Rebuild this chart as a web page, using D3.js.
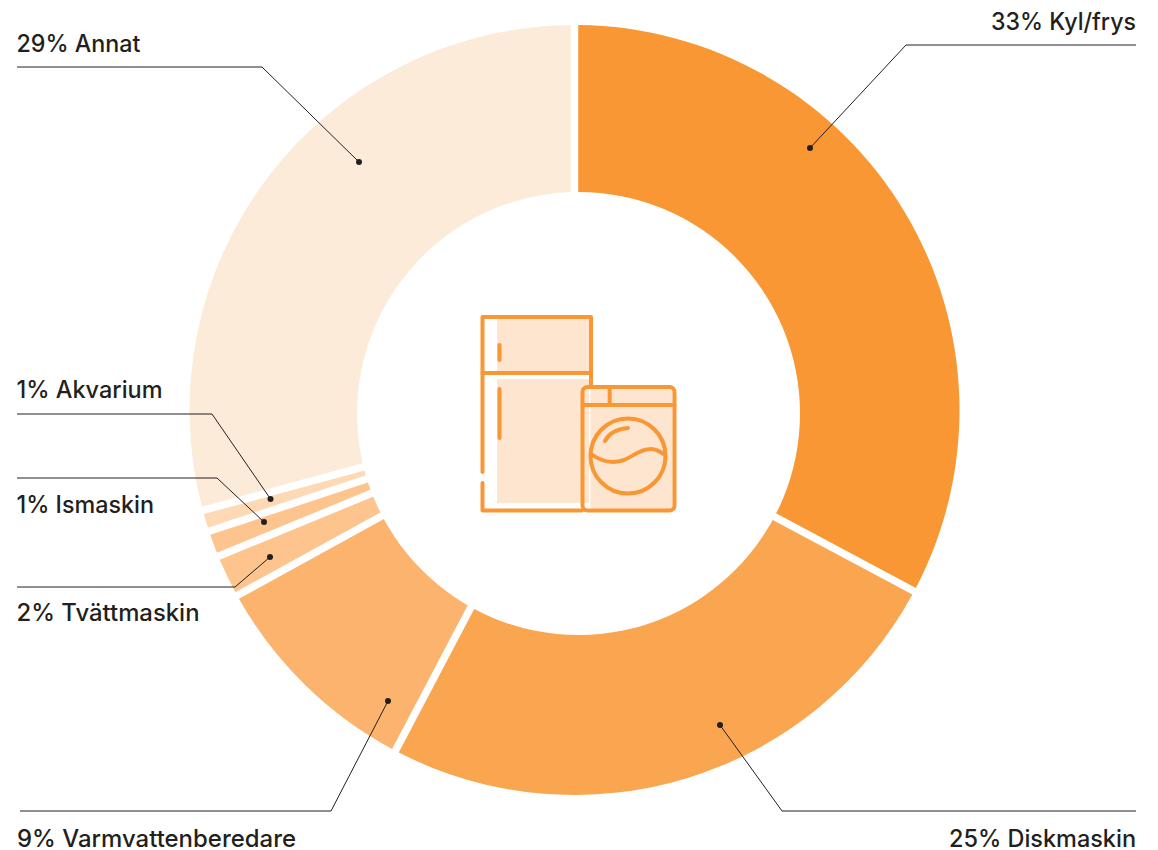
<!DOCTYPE html>
<html><head><meta charset="utf-8">
<script src="https://cdn.jsdelivr.net/npm/d3@7/dist/d3.min.js"></script>
<style>html,body{margin:0;padding:0;background:#fff}svg{display:block}</style>
</head><body><svg id="c" width="1158" height="850"></svg>
<script>
const categories = ["Kyl/frys","Diskmaskin","Varmvattenberedare","Tvättmaskin","Ismaskin","Akvarium","Annat"];
const labelShares = [33,25,9,2,1,1,29];
const sliceShares = [32.8,24.9,9.3,1.8,1.1,0.9,29.2];
const colors = ["#F89734","#FAA651","#FCB36D","#FDC48D","#FDC48D","#FDD9B5","#FDEBDA"];
// leader layout: line points, label anchor, label width
const leaderLayout = [
  {pts:[[1136,45],[906,45],[810,148]], tx:1136, ty:30, anchor:"end", w:145},
  {pts:[[1136,811],[782,811],[720,725]], tx:1136, ty:847, anchor:"end", w:187},
  {pts:[[20,811],[331,811],[388,701]], tx:17, ty:847, anchor:"start", w:279},
  {pts:[[17,587],[235,587],[270,557]], tx:16.5, ty:621, anchor:"start", w:183},
  {pts:[[17,478],[217,478],[264,522]], tx:16.5, ty:513, anchor:"start", w:137.5},
  {pts:[[17,414],[212,414],[270.5,499]], tx:16.5, ty:398, anchor:"start", w:146},
  {pts:[[17,67],[262,67],[359,162]], tx:16.5, ty:52, anchor:"start", w:124}
];
const svg = d3.select("#c");
const cx=574.5, cy=410, R=385;
const pie = d3.pie().sort(null).value(d=>d);
const arc = d3.arc().innerRadius(205).outerRadius(R).padRadius(300).padAngle(7.5/300);
const arcs = pie(sliceShares);
svg.append("g").attr("transform",`translate(${cx},${cy})`)
  .selectAll("path").data(arcs).join("path")
  .attr("d",arc).attr("fill",(d,i)=>colors[i]);
svg.append("circle").attr("cx",578.5).attr("cy",413.5).attr("r",221.5).attr("fill","#fff");

const line = d3.line();
const lg = svg.append("g");
lg.selectAll("path").data(leaderLayout).join("path")
  .attr("d",d=>line(d.pts)).attr("fill","none").attr("stroke","#231f20").attr("stroke-width",1);
lg.selectAll("circle").data(leaderLayout).join("circle")
  .attr("cx",d=>d.pts[2][0]).attr("cy",d=>d.pts[2][1]).attr("r",3).attr("fill","#231f20");
lg.selectAll("text").data(leaderLayout).join("text")
  .attr("x",d=>d.tx).attr("y",d=>d.ty).attr("text-anchor",d=>d.anchor)
  .attr("textLength",d=>d.w).attr("lengthAdjust","spacingAndGlyphs")
  .attr("font-family","Inter, Lato, sans-serif").attr("font-size",24).attr("font-weight",500)
  .attr("fill","#231f20")
  .text((d,i)=>`${labelShares[i]}% ${categories[i]}`);

// appliance icon
const icon = svg.append("g");
const pale="#FDE5CF", org="#F89734";
icon.append("rect").attr("x",497).attr("y",319).attr("width",92).attr("height",54).attr("fill",pale);
icon.append("rect").attr("x",497).attr("y",379).attr("width",92).attr("height",124).attr("fill",pale);
icon.append("rect").attr("x",590.5).attr("y",389).attr("width",82).attr("height",120).attr("rx",4).attr("fill",pale);
const s = icon.append("g").attr("fill","none").attr("stroke",org).attr("stroke-width",4).attr("stroke-linecap","round").attr("stroke-linejoin","round");
s.append("path").attr("d","M482.5 472V317H591V387");
s.append("path").attr("d","M482.5 483V510.5H582");
s.append("path").attr("d","M482.5 373H591");
s.append("path").attr("d","M499.5 345V360M499.5 389V438");
s.append("rect").attr("x",582.5).attr("y",387).attr("width",92).attr("height",123.5).attr("rx",5);
s.append("path").attr("d","M582.5 405H674.5M609.7 387V405");
s.append("circle").attr("cx",628).attr("cy",456).attr("r",37.5);
s.append("path").attr("d","M605 441C609 433 618 429 628 428");
s.append("path").attr("d","M591 454C602 462 613 464 624 460C634 456 640 449 651 449C657 449 661 452 665 455");
</script></body></html>
